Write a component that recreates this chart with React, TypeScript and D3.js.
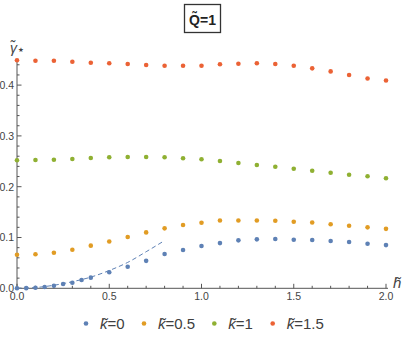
import React, { useEffect, useRef } from 'react';
import * as d3 from 'd3';

// h values shared by the k=0.5, 1, 1.5 series
const hGrid = [0, 0.1, 0.2, 0.3, 0.4, 0.5, 0.6, 0.7, 0.8, 0.9, 1.0, 1.1, 1.2, 1.3, 1.4, 1.5, 1.6, 1.7, 1.8, 1.9, 2.0];
// k=0 is sampled finer near the origin
const hBlue = [0, 0.05, 0.1, 0.15, 0.2, 0.25, 0.3, 0.35, 0.4, 0.5, 0.6, 0.7, 0.8, 0.9, 1.0, 1.1, 1.2, 1.3, 1.4, 1.5, 1.6, 1.7, 1.8, 1.9, 2.0];

const gammaK0 = [0, 0.0003, 0.001, 0.0026, 0.005, 0.0085, 0.011, 0.0163, 0.021, 0.0315, 0.0425, 0.054, 0.0675, 0.0754, 0.0833, 0.089, 0.0944, 0.0964, 0.097, 0.0957, 0.095, 0.093, 0.091, 0.0878, 0.085];
const gammaK05 = [0.066, 0.067, 0.070, 0.076, 0.084, 0.092, 0.101, 0.110, 0.118, 0.1246, 0.129, 0.1335, 0.1335, 0.1335, 0.133, 0.131, 0.1295, 0.126, 0.123, 0.120, 0.117];
const gammaK1 = [0.252, 0.2526, 0.2531, 0.2545, 0.2565, 0.2579, 0.2585, 0.2585, 0.2579, 0.2559, 0.254, 0.2506, 0.2467, 0.2427, 0.2394, 0.2354, 0.2315, 0.2276, 0.2236, 0.2205, 0.2165];
const gammaK15 = [0.4488, 0.448, 0.448, 0.446, 0.444, 0.443, 0.4415, 0.4396, 0.438, 0.438, 0.438, 0.441, 0.442, 0.443, 0.4415, 0.438, 0.433, 0.427, 0.420, 0.413, 0.409];

// dashed small-h curve for k=0
const fitH = [0, 0.1, 0.2, 0.3, 0.4, 0.5, 0.6, 0.7, 0.8];
const fitGamma = [0, 0.0015, 0.006, 0.013, 0.022, 0.035, 0.051, 0.072, 0.094];

const seriesLabels = ['0', '0.5', '1', '1.5'];
const colors = ['#5E81B5', '#E19C24', '#8FB032', '#EB6235'];

const xMajor = [0, 0.5, 1, 1.5, 2];
const yMajor = [0, 0.1, 0.2, 0.3, 0.4];

const App = () => {
  const ref = useRef(null);

  useEffect(() => {
    const width = 407;
    const height = 341;
    const svg = d3.select(ref.current)
      .attr('width', width)
      .attr('height', height);
    svg.selectAll('*').remove();

    const font = '"Liberation Sans", Arial, sans-serif';
    const x = d3.scaleLinear().domain([0, 2]).range([17, 386]);
    const y = d3.scaleLinear().domain([0, 0.45]).range([288.3, 59.7]);

    // axes
    const axisColor = '#555';
    svg.append('line')
      .attr('x1', x(0)).attr('x2', x(2) + 2)
      .attr('y1', y(0)).attr('y2', y(0))
      .attr('stroke', axisColor);
    svg.append('line')
      .attr('x1', x(0)).attr('x2', x(0))
      .attr('y1', y(0)).attr('y2', y(0.45))
      .attr('stroke', axisColor);

    const xMinor = d3.range(0, 2.001, 0.1);
    svg.selectAll('.xtick')
      .data(xMinor)
      .enter().append('line')
      .attr('x1', d => x(d)).attr('x2', d => x(d))
      .attr('y1', y(0))
      .attr('y2', d => y(0) - (xMajor.some(m => Math.abs(m - d) < 1e-6) ? 4.5 : 2.5))
      .attr('stroke', axisColor);

    const yMinor = d3.range(0, 0.4501, 0.02);
    svg.selectAll('.ytick')
      .data(yMinor)
      .enter().append('line')
      .attr('x1', x(0))
      .attr('x2', d => x(0) + (yMajor.some(m => Math.abs(m - d) < 1e-6) ? 4.5 : 2.5))
      .attr('y1', d => y(d)).attr('y2', d => y(d))
      .attr('stroke', axisColor);

    svg.selectAll('.xlabel')
      .data(xMajor)
      .enter().append('text')
      .attr('x', d => x(d))
      .attr('y', y(0) + 12)
      .attr('text-anchor', 'middle')
      .attr('font-family', font)
      .attr('font-size', 10.5)
      .attr('fill', '#444')
      .text(d => d3.format('.1f')(d));

    svg.selectAll('.ylabel')
      .data(yMajor)
      .enter().append('text')
      .attr('x', x(0) - 3)
      .attr('y', d => y(d) + 3.8)
      .attr('text-anchor', 'end')
      .attr('font-family', font)
      .attr('font-size', 10.5)
      .attr('fill', '#444')
      .text(d => d3.format('.1f')(d));

    // axis labels
    const yl = svg.append('text')
      .attr('x', 10).attr('y', 53)
      .attr('font-family', font)
      .attr('font-size', 14)
      .attr('fill', '#444');
    yl.append('tspan').attr('font-style', 'italic').text('\u03B3\u0303');
    yl.append('tspan')
      .attr('font-family', '"DejaVu Sans", sans-serif')
      .attr('font-size', 6.5)
      .attr('dx', 1)
      .attr('dy', -1)
      .text('\u2605');

    svg.append('text')
      .attr('x', 393).attr('y', 288)
      .attr('font-family', font)
      .attr('font-size', 15)
      .attr('font-style', 'italic')
      .attr('fill', '#444')
      .text('h\u0303');

    // dashed curve
    const line = d3.line()
      .x(d => x(d[0]))
      .y(d => y(d[1]))
      .curve(d3.curveMonotoneX);
    svg.append('path')
      .attr('d', line(fitH.map((h, i) => [h, fitGamma[i]])))
      .attr('fill', 'none')
      .attr('stroke', colors[0])
      .attr('stroke-width', 1)
      .attr('stroke-dasharray', '4.5,3');

    // points
    const series = [
      hBlue.map((h, i) => [h, gammaK0[i]]),
      hGrid.map((h, i) => [h, gammaK05[i]]),
      hGrid.map((h, i) => [h, gammaK1[i]]),
      hGrid.map((h, i) => [h, gammaK15[i]]),
    ];
    series.forEach((pts, si) => {
      svg.append('g')
        .selectAll('circle')
        .data(pts)
        .enter().append('circle')
        .attr('cx', d => x(d[0]))
        .attr('cy', d => y(d[1]))
        .attr('r', 2.3)
        .attr('fill', colors[si]);
    });

    // title box
    const title = svg.append('g');
    title.append('rect')
      .attr('x', 184.5).attr('y', 4.5)
      .attr('width', 36).attr('height', 28)
      .attr('fill', 'white')
      .attr('stroke', '#333')
      .attr('stroke-width', 1.3);
    title.append('text')
      .attr('x', 202.5).attr('y', 25)
      .attr('text-anchor', 'middle')
      .attr('font-family', font)
      .attr('font-size', 14)
      .attr('font-weight', 'bold')
      .attr('fill', '#222')
      .text('Q\u0303=1');

    // legend
    const legendDotX = [86, 144, 214.3, 272.7];
    const legend = svg.append('g');
    seriesLabels.forEach((lab, i) => {
      legend.append('circle')
        .attr('cx', legendDotX[i]).attr('cy', 323.5)
        .attr('r', 2.3)
        .attr('fill', colors[i]);
      const t = legend.append('text')
        .attr('x', legendDotX[i] + 14).attr('y', 329)
        .attr('font-family', font)
        .attr('font-size', 15)
        .attr('fill', '#404040');
      t.append('tspan').attr('font-style', 'italic').text('k\u0303');
      t.append('tspan').text('=' + lab);
    });
  }, []);

  return <svg ref={ref} style={{ position: 'absolute', left: 0, top: 0 }}></svg>;
};

export default App;
